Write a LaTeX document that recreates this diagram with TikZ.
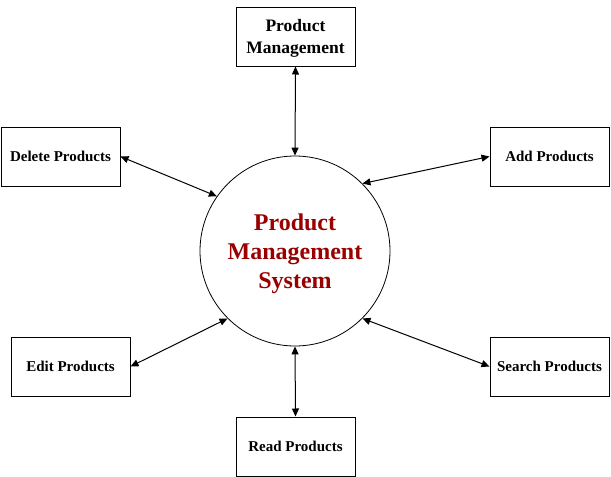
\documentclass[tikz,border=0pt]{standalone}
\usepackage{fontspec}
\setmainfont{Liberation Serif}
\usetikzlibrary{arrows.meta}
\definecolor{darkred}{HTML}{990000}
\begin{document}
\begin{tikzpicture}[x=1pt,y=-1pt,
  box/.style={draw,line width=1pt,minimum width=119pt,minimum height=59pt,inner sep=0pt,align=center,font=\fontsize{15}{18}\selectfont\bfseries},
  conn/.style={line width=1pt,{Triangle[length=8pt,width=7pt]}-{Triangle[length=8pt,width=7pt]}}]
\useasboundingbox (0,0) rectangle (611,477);
\node[box] (pm) at (295.5,36.5) {};
\node[align=center,font=\fontsize{17.5}{22}\selectfont\bfseries] (pmtext) at (295.5,38.5) {Product\\Management};
\node[box] (del) at (60.5,156.5) {Delete Products};
\node[box] (add) at (549.5,156.5) {Add Products};
\node[box] (edit) at (70.5,366.5) {Edit Products};
\node[box] (search) at (549.5,366.5) {Search Products};
\node[box] (read) at (295.5,446.5) {Read Products};
\node[draw,circle,line width=0.8pt,minimum size=190pt,inner sep=0pt] (c) at (295,251) {};
\node[align=center,text=darkred,font=\fontsize{24}{29}\selectfont\bfseries] (ctext) at (295,254) {Product\\Management\\System};
\draw[conn] (pm.south) -- (c.north);
\draw[conn] (del.east) -- (c.145);
\draw[conn] (add.west) -- (c.45);
\draw[conn] (edit.east) -- (c.225);
\draw[conn] (search.west) -- (c.315);
\draw[conn] (c.south) -- (read.north);
\end{tikzpicture}
\end{document}
